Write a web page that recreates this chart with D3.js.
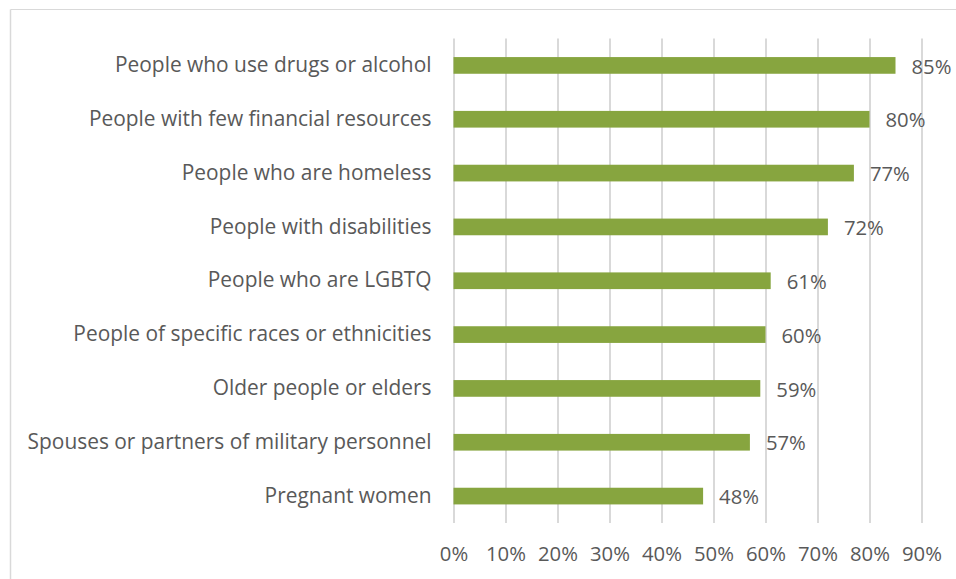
<!DOCTYPE html>
<html>
<head>
<meta charset="utf-8">
<script src="https://cdn.jsdelivr.net/npm/d3@7"></script>
<style>
  html, body { margin: 0; padding: 0; background: #fff; }
  svg { display: block; font-family: "Open Sans", sans-serif; }
</style>
</head>
<body>
<svg id="chart" width="956" height="579"></svg>
<script>
// Share of respondents naming each group
const categories = [
  "People who use drugs or alcohol",
  "People with few financial resources",
  "People who are homeless",
  "People with disabilities",
  "People who are LGBTQ ",
  "People of specific races or ethnicities",
  "Older people or elders",
  "Spouses or partners of military personnel",
  "Pregnant women"
];
const values = [85, 80, 77, 72, 61, 60, 59, 57, 48];
const xTicks = [0, 10, 20, 30, 40, 50, 60, 70, 80, 90];

const svg = d3.select("#chart");
const W = 956, H = 579;
const margin = { top: 38.5, left: 453.5, right: 34.5, bottom: 56 };
const plotW = W - margin.left - margin.right;
const plotH = H - margin.top - margin.bottom;

const fontFamily = "'Open Sans', sans-serif";
const labelSize = "20.9px";
const numberSize = "20.3px";
const textColor = "#595959";
const gridColor = "#d9d9d9";
const barColor = "#87a53f";

// Chart frame (top and left edges)
svg.append("line").attr("x1", 10.5).attr("x2", W).attr("y1", 9.5).attr("y2", 9.5)
  .attr("stroke", gridColor).attr("stroke-width", 1);
svg.append("line").attr("x1", 10.5).attr("x2", 10.5).attr("y1", 9.5).attr("y2", H)
  .attr("stroke", gridColor).attr("stroke-width", 1.5);

const g = svg.append("g").attr("transform", `translate(${margin.left},${margin.top})`);

const x = d3.scaleLinear().domain([0, 90]).range([0, plotW]);
const y = d3.scaleBand().domain(categories).range([0, plotH]).paddingInner(0.69).paddingOuter(0.345);

// Vertical gridlines
g.append("g").selectAll("line").data(xTicks).join("line")
  .attr("x1", d => Math.round(x(d)) + 0.5).attr("x2", d => Math.round(x(d)) + 0.5)
  .attr("y1", 0).attr("y2", plotH)
  .attr("stroke", gridColor).attr("stroke-width", 2);

// X axis tick labels
const xAxis = d3.axisBottom(x).tickValues(xTicks).tickFormat(d => d + "%").tickSize(0).tickPadding(24);
const xa = g.append("g").attr("transform", `translate(0,${plotH})`).call(xAxis);
xa.select(".domain").remove();
xa.selectAll("text").attr("fill", textColor).style("font-size", numberSize).style("font-family", fontFamily);

// Category labels
const yAxis = d3.axisLeft(y).tickSize(0).tickPadding(22);
const ya = g.append("g").call(yAxis);
ya.select(".domain").remove();
ya.selectAll("text").attr("fill", textColor).style("font-size", labelSize).style("font-family", fontFamily);

// Bars
g.append("g").selectAll("rect").data(values).join("rect")
  .attr("x", x(0))
  .attr("y", (d, i) => y(categories[i]))
  .attr("width", d => x(d) - x(0))
  .attr("height", y.bandwidth())
  .attr("fill", barColor);

// Value labels
g.append("g").selectAll("text").data(values).join("text")
  .attr("x", d => x(d) + 16)
  .attr("y", (d, i) => y(categories[i]) + y.bandwidth() / 2 + 1)
  .attr("dy", "0.35em")
  .attr("fill", textColor)
  .style("font-size", numberSize)
  .style("font-family", fontFamily)
  .text(d => d + "%");
</script>
</body>
</html>
